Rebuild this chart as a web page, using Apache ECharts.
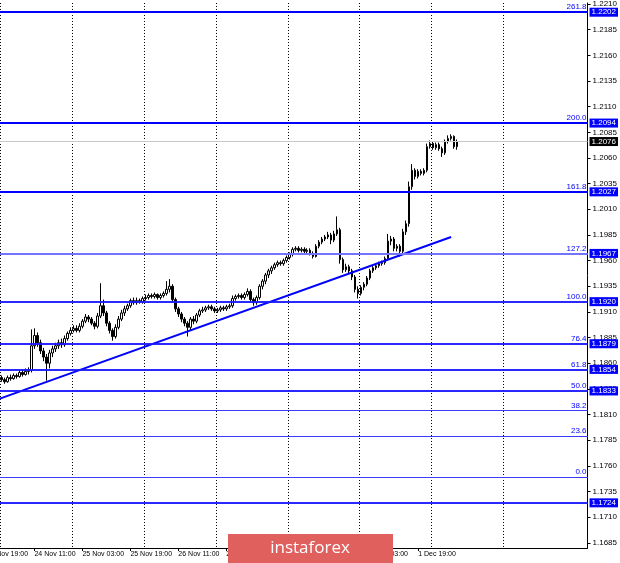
<!DOCTYPE html>
<html><head><meta charset="utf-8">
<script src="https://cdn.jsdelivr.net/npm/echarts@6/dist/echarts.min.js"></script>
<style>html,body{margin:0;padding:0;background:#fff;overflow:hidden;width:620px;height:563px;position:relative}
#c{position:absolute;left:-18px;top:0;width:638px;height:563px}</style>
</head><body><div id="c"></div>
<script>
// ---- time axis (H1 bars, weekend skipped) ----
const tradingDays = ['23 Nov','24 Nov','25 Nov','26 Nov','27 Nov','30 Nov','1 Dec','2 Dec','3 Dec','4 Dec'];
const firstHour = 18;          // first category: 23 Nov 18:00
const categoryCount = 202;
const firstCandleIndex = 6;    // 24 Nov 00:00
const xLabelStep = 16;
const xLabelOffset = 1;

// ---- candles: [open, close, low, high] ----
const candles = [
[1.1846,1.1844,1.1842,1.1848],[1.1844,1.1842,1.1840,1.1846],[1.1842,1.1846,1.1841,1.1848],[1.1846,1.1845,1.1843,1.1849],
[1.1845,1.1848,1.1844,1.1850],[1.1848,1.1847,1.1845,1.1850],[1.1847,1.1851,1.1846,1.1853],[1.1851,1.1849,1.1847,1.1854],
[1.1849,1.1852,1.1848,1.1855],[1.1852,1.1853,1.1849,1.1856],
[1.1853,1.1877,1.1851,1.1893],[1.1877,1.1887,1.1874,1.1894],[1.1887,1.1880,1.1876,1.1890],[1.1880,1.1872,1.1869,1.1883],
[1.1872,1.1866,1.1862,1.1875],[1.1866,1.1860,1.1843,1.1869],[1.1860,1.1870,1.1855,1.1873],[1.1870,1.1874,1.1866,1.1877],
[1.1874,1.1877,1.1871,1.1880],[1.1877,1.1880,1.1874,1.1883],
[1.1880,1.1878,1.1875,1.1884],[1.1878,1.1884,1.1876,1.1887],[1.1884,1.1889,1.1882,1.1891],[1.1889,1.1892,1.1887,1.1895],
[1.1892,1.1894,1.1890,1.1897],[1.1894,1.1892,1.1890,1.1897],[1.1892,1.1896,1.1890,1.1899],[1.1896,1.1901,1.1894,1.1903],
[1.1901,1.1905,1.1899,1.1908],[1.1905,1.1903,1.1900,1.1907],
[1.1903,1.1899,1.1897,1.1905],[1.1899,1.1896,1.1893,1.1901],[1.1896,1.1906,1.1894,1.1909],[1.1906,1.1916,1.1904,1.1938],
[1.1916,1.1909,1.1906,1.1922],[1.1909,1.1899,1.1896,1.1911],[1.1899,1.1892,1.1889,1.1901],[1.1892,1.1886,1.1882,1.1894],
[1.1886,1.1895,1.1884,1.1898],[1.1895,1.1903,1.1893,1.1906],
[1.1903,1.1909,1.1901,1.1912],[1.1909,1.1913,1.1906,1.1916],[1.1913,1.1916,1.1911,1.1918],[1.1916,1.1921,1.1914,1.1923],
[1.1921,1.1919,1.1917,1.1924],[1.1919,1.1921,1.1917,1.1924],[1.1921,1.1920,1.1918,1.1923],[1.1920,1.1923,1.1918,1.1925],
[1.1923,1.1924,1.1921,1.1927],[1.1924,1.1926,1.1922,1.1928],
[1.1926,1.1925,1.1923,1.1928],[1.1925,1.1927,1.1923,1.1929],[1.1927,1.1924,1.1922,1.1928],[1.1924,1.1926,1.1922,1.1928],
[1.1926,1.1928,1.1924,1.1930],[1.1928,1.1932,1.1926,1.1940],[1.1932,1.1935,1.1929,1.1942],[1.1935,1.1922,1.1919,1.1937],
[1.1922,1.1913,1.1910,1.1924],[1.1913,1.1908,1.1905,1.1915],
[1.1908,1.1903,1.1900,1.1910],[1.1903,1.1899,1.1896,1.1905],[1.1899,1.1895,1.1886,1.1901],[1.1895,1.1903,1.1892,1.1905],
[1.1903,1.1901,1.1898,1.1906],[1.1901,1.1907,1.1899,1.1909],[1.1907,1.1911,1.1905,1.1913],[1.1911,1.1912,1.1909,1.1915],
[1.1912,1.1914,1.1910,1.1916],[1.1914,1.1915,1.1912,1.1917],
[1.1915,1.1913,1.1911,1.1917],[1.1913,1.1911,1.1909,1.1915],[1.1911,1.1912,1.1909,1.1914],[1.1912,1.1914,1.1910,1.1916],
[1.1914,1.1913,1.1911,1.1916],[1.1913,1.1915,1.1911,1.1917],[1.1915,1.1916,1.1913,1.1918],[1.1916,1.1923,1.1914,1.1926],
[1.1923,1.1925,1.1921,1.1927],[1.1925,1.1926,1.1923,1.1928],
[1.1926,1.1924,1.1922,1.1928],[1.1924,1.1927,1.1922,1.1929],[1.1927,1.1930,1.1925,1.1933],[1.1930,1.1922,1.1920,1.1932],
[1.1922,1.1919,1.1916,1.1924],[1.1919,1.1924,1.1917,1.1926],[1.1924,1.1935,1.1922,1.1937],[1.1935,1.1940,1.1932,1.1942],
[1.1940,1.1946,1.1937,1.1948],[1.1946,1.1950,1.1943,1.1952],
[1.1950,1.1953,1.1947,1.1955],[1.1953,1.1956,1.1951,1.1958],[1.1956,1.1958,1.1954,1.1960],[1.1958,1.1957,1.1955,1.1960],
[1.1957,1.1960,1.1955,1.1962],[1.1960,1.1963,1.1958,1.1965],[1.1963,1.1966,1.1961,1.1968],[1.1966,1.1971,1.1964,1.1973],
[1.1971,1.1972,1.1969,1.1974],[1.1972,1.1970,1.1968,1.1974],
[1.1970,1.1971,1.1968,1.1973],[1.1971,1.1969,1.1967,1.1973],[1.1969,1.1970,1.1967,1.1972],[1.1970,1.1967,1.1965,1.1972],
[1.1967,1.1964,1.1962,1.1969],[1.1964,1.1974,1.1963,1.1976],[1.1974,1.1978,1.1972,1.1980],[1.1978,1.1981,1.1976,1.1983],
[1.1981,1.1983,1.1979,1.1985],[1.1983,1.1985,1.1981,1.1988],
[1.1985,1.1980,1.1976,1.1987],[1.1980,1.1986,1.1978,1.1989],[1.1986,1.1990,1.1984,1.2003],[1.1990,1.1961,1.1957,1.1992],
[1.1961,1.1951,1.1948,1.1963],[1.1951,1.1954,1.1949,1.1957],[1.1954,1.1950,1.1947,1.1956],[1.1950,1.1944,1.1941,1.1952],
[1.1944,1.1932,1.1929,1.1946],[1.1932,1.1928,1.1923,1.1935],
[1.1928,1.1934,1.1926,1.1936],[1.1934,1.1937,1.1931,1.1939],[1.1937,1.1943,1.1935,1.1945],[1.1943,1.1950,1.1941,1.1952],
[1.1950,1.1953,1.1948,1.1955],[1.1953,1.1955,1.1951,1.1957],[1.1955,1.1957,1.1953,1.1959],[1.1957,1.1958,1.1955,1.1960],
[1.1958,1.1962,1.1956,1.1964],[1.1962,1.1979,1.1960,1.1986],
[1.1979,1.1981,1.1975,1.1984],[1.1981,1.1972,1.1969,1.1983],[1.1972,1.1974,1.1969,1.1976],[1.1974,1.1969,1.1964,1.1976],
[1.1969,1.1988,1.1967,1.1991],[1.1988,1.1996,1.1985,1.1999],[1.1996,1.2032,1.1993,1.2037],[1.2032,1.2048,1.2029,1.2054],
[1.2048,1.2042,1.2039,1.2050],[1.2042,1.2047,1.2040,1.2049],
[1.2047,1.2045,1.2043,1.2049],[1.2045,1.2048,1.2043,1.2050],[1.2048,1.2071,1.2046,1.2074],[1.2071,1.2074,1.2069,1.2077],
[1.2074,1.2070,1.2068,1.2076],[1.2070,1.2073,1.2068,1.2075],[1.2073,1.2069,1.2067,1.2075],[1.2069,1.2065,1.2061,1.2071],
[1.2065,1.2076,1.2063,1.2078],[1.2076,1.2079,1.2074,1.2082],
[1.2079,1.2081,1.2077,1.2083],[1.2081,1.2071,1.2069,1.2082],[1.2071,1.2076,1.2068,1.2078]
];

// ---- trend line: [category index, price] ----
const trendPoints = [[5, 1.1825], [156, 1.1983]];

// ---- Fibonacci / level lines ----
const levelPrices = [1.2202, 1.2094, 1.2027, 1.1967, 1.1920, 1.1879, 1.1854, 1.1833, 1.1814, 1.1789, 1.1749, 1.1724];
const levelTags   = ['261.8','200.0','161.8','127.2','100.0','76.4','61.8','50.0','38.2','23.6','0.0',''];
const levelBoxed  = [true,true,true,true,true,true,true,true,false,false,false,true];
const currentPrice = 1.2076;

// ---- y tick labels ----
const yTicks = [1.1685,1.1710,1.1735,1.1760,1.1785,1.1810,1.1835,1.1860,1.1885,1.1910,1.1935,1.1960,
                1.1985,1.2010,1.2035,1.2060,1.2085,1.2110,1.2135,1.2160,1.2185,1.2210];
const yMin = 1.1680, yMax = 1.2211;

// ---- styles ----
const levelColors = ['#0000ff','#0000ff','#0000ff','#7373ff','#1a1aff','#1a1aff','#1a1aff','#1a1aff','#3a3aff','#3a3aff','#3a3aff','#1a1aff'];
const levelWidths = [2,2,2,2,1.5,1.5,1.5,1.5,1,1,1,1.5];

// build categories
const categories = [];
const hourOf = [];
for (let d = 0; d < tradingDays.length && categories.length < categoryCount; d++) {
  for (let h = (d === 0 ? firstHour : 0); h < 24 && categories.length < categoryCount; h++) {
    categories.push(tradingDays[d] + ' ' + String(h).padStart(2, '0') + ':00');
    hourOf.push(h);
  }
}
const lastIndex = firstCandleIndex + candles.length - 1;
const seriesData = categories.map((c, i) =>
  (i >= firstCandleIndex && i <= lastIndex) ? candles[i - firstCandleIndex] : '-');

const FONT = 'Liberation Sans';
const markData = [];
levelPrices.forEach((p, k) => {
  const ls = {color: levelColors[k], width: levelWidths[k], type: 'solid'};
  markData.push({yAxis: p, lineStyle: ls,
    label: {show: levelTags[k] !== '', position: 'insideEndTop', formatter: levelTags[k],
            color: '#0000ff', fontSize: 8, fontFamily: FONT, distance: 1}});
  markData.push({yAxis: p, lineStyle: ls,
    label: {show: levelBoxed[k], position: 'end', formatter: p.toFixed(4),
            backgroundColor: '#0000ff', color: '#fff', fontSize: 8, fontFamily: FONT,
            padding: [1, 2, 0, 2], distance: 2}});
});
markData.push({yAxis: currentPrice, lineStyle: {color: '#c8c8c8', width: 1, type: 'solid'},
  label: {show: true, position: 'end', formatter: currentPrice.toFixed(4),
          backgroundColor: '#000', color: '#fff', fontSize: 8, fontFamily: FONT,
          padding: [1, 2, 0, 2], distance: 2}});

const chart = echarts.init(document.getElementById('c'), null, {renderer: 'canvas'});
chart.setOption({
  animation: false,
  backgroundColor: '#fff',
  grid: {left: 0, right: 31, top: 0, bottom: 15, containLabel: false},
  xAxis: {
    type: 'category', data: categories, boundaryGap: true,
    axisLine: {show: true, lineStyle: {color: '#000', width: 1}},
    axisTick: {show: true, alignWithLabel: true, length: 3, lineStyle: {color: '#000'},
               interval: (i) => i % xLabelStep === xLabelOffset && i <= lastIndex},
    axisLabel: {show: true, interval: (i) => i % xLabelStep === xLabelOffset && i <= lastIndex,
                align: 'left', margin: 3, fontSize: 7, fontFamily: FONT, color: '#000'},
    splitLine: {show: true, interval: (i) => hourOf[i] === 0 && i < 190,
                lineStyle: {color: '#000', type: [1, 2], width: 1}}
  },
  yAxis: {
    type: 'value', position: 'right', min: yMin, max: yMax, scale: true,
    axisLine: {show: true, lineStyle: {color: '#000', width: 1}},
    axisTick: {show: true, length: 3, customValues: yTicks, lineStyle: {color: '#000'}},
    axisLabel: {show: true, customValues: yTicks, formatter: (v) => v.toFixed(4),
                margin: 5, fontSize: 8, fontFamily: FONT, color: '#000'},
    splitLine: {show: false}
  },
  series: [
    {
      type: 'candlestick', data: seriesData, barWidth: 2,
      itemStyle: {color: '#ffffff', color0: '#000000', borderColor: '#000000', borderColor0: '#000000', borderWidth: 1},
      markLine: {silent: true, symbol: 'none', animation: false, precision: 4, data: markData},
      z: 2
    },
    {
      type: 'line', data: trendPoints, symbol: 'none', silent: true,
      lineStyle: {color: '#0000ff', width: 2}, z: 4
    }
  ],
  graphic: [
    {type: 'rect', left: 246, top: 534, shape: {width: 165, height: 29}, style: {fill: '#e0605e'}, z: 100},
    {type: 'text', x: 328, y: 548, z: 101,
     style: {text: 'instaforex', fill: '#ffffff', fontSize: 17, fontFamily: 'Open Sans',
             align: 'center', verticalAlign: 'middle', textAlign: 'center', textVerticalAlign: 'middle'}}
  ]
});
</script>
</body></html>
